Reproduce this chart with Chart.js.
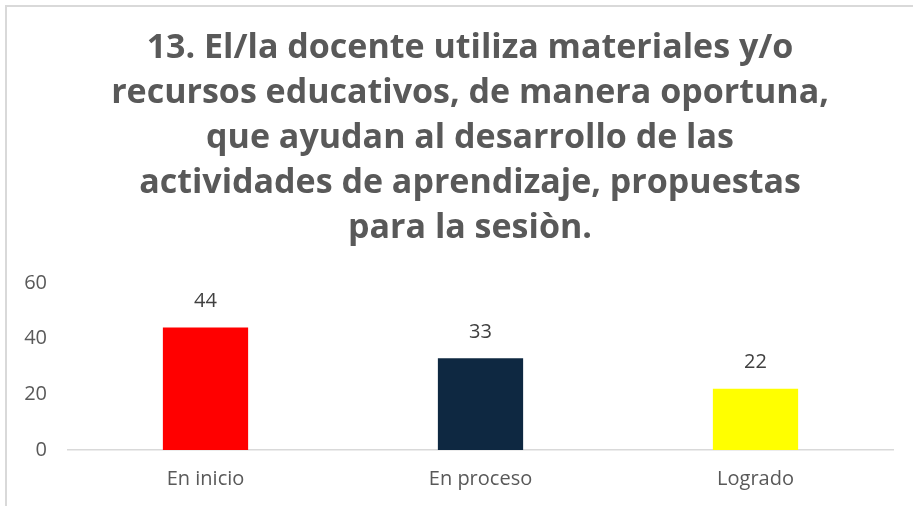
<!DOCTYPE html>
<html>
<head>
<meta charset="utf-8">
<script src="https://cdn.jsdelivr.net/npm/chart.js@4"></script>
<style>
  html, body { margin: 0; padding: 0; background: #fff; }
  #frame {
    position: absolute; left: 5px; top: 5px; width: 920px; height: 520px;
    border-left: 2px solid #d9d9d9; border-top: 2px solid #d9d9d9;
  }
  #wrap { position: absolute; left: 0; top: 0; width: 913px; height: 506px; }
</style>
</head>
<body>
<div id="frame"></div>
<div id="wrap"><canvas id="barChart"></canvas></div>
<script>
const categories = ["En inicio", "En proceso", "Logrado"];
const values = [44, 33, 22];
const barColors = ["#ff0000", "#0e2841", "#ffff00"];
const yTicks = [0, 20, 40, 60];
const titleLines = [
  "13. El/la docente utiliza materiales y/o",
  "recursos educativos, de manera oportuna,",
  "que ayudan al desarrollo de las",
  "actividades de aprendizaje, propuestas",
  "para la sesiòn."
];

const textFont = "'Open Sans', sans-serif";

// draws the value above each bar
const valueLabels = {
  id: "valueLabels",
  afterDatasetsDraw(chart) {
    const ctx = chart.ctx;
    const meta = chart.getDatasetMeta(0);
    ctx.save();
    ctx.font = "20px " + textFont;
    ctx.fillStyle = "#404040";
    ctx.textAlign = "center";
    ctx.textBaseline = "middle";
    meta.data.forEach((bar, i) => {
      ctx.fillText(values[i], bar.x, bar.y - 26);
    });
    ctx.restore();
  }
};

new Chart("barChart", {
  type: "bar",
  data: {
    labels: categories,
    datasets: [{
      data: values,
      backgroundColor: barColors,
      categoryPercentage: 1,
      barPercentage: 0.31
    }]
  },
  options: {
    responsive: true,
    maintainAspectRatio: false,
    animation: false,
    // title sits a bit right of the canvas centre, hence the uneven padding
    layout: { padding: { left: 0, right: -27, top: 26, bottom: 6 } },
    plugins: {
      legend: { display: false },
      tooltip: { enabled: false },
      title: {
        display: true,
        text: titleLines,
        color: "#595959",
        font: { family: textFont, size: 34, weight: "bold", lineHeight: 1.324 },
        padding: { top: 0, bottom: 32 }
      }
    },
    scales: {
      x: {
        grid: { display: false },
        border: { display: true, color: "#d9d9d9", width: 1.5 },
        ticks: {
          color: "#595959",
          font: { family: textFont, size: 20 },
          padding: 9
        }
      },
      y: {
        min: 0,
        max: 60,
        afterBuildTicks(axis) { axis.ticks = yTicks.map(v => ({ value: v })); },
        afterFit(axis) { axis.width = 68; },
        grid: { display: false },
        border: { display: false },
        ticks: {
          color: "#595959",
          font: { family: textFont, size: 20 },
          padding: 13
        }
      },
      yRight: {
        position: "right",
        display: true,
        afterFit(axis) { axis.width = 47; },
        grid: { display: false },
        border: { display: false },
        ticks: { display: false }
      }
    }
  },
  plugins: [valueLabels]
});
</script>
</body>
</html>
